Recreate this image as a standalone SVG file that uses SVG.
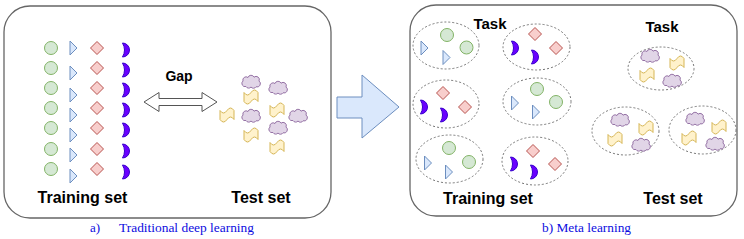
<svg xmlns="http://www.w3.org/2000/svg" xmlns:xlink="http://www.w3.org/1999/xlink" width="744" height="239" viewBox="0 0 744 239">
<style>
.panel{fill:#fff;stroke:#666;stroke-width:1.3}
.task{fill:none;stroke:#777;stroke-width:1;stroke-dasharray:2 2}
.circ{fill:#d5e8d4;stroke:#82b366;stroke-width:1}
.tri{fill:#dae8fc;stroke:#6c8ebf;stroke-width:1}
.dia{fill:#f8cecc;stroke:#b85450;stroke-width:1}
.moon{fill:#6a00ff;stroke:#3700cc;stroke-width:1}
.cloud{fill:#e1d5e7;stroke:#9673a6;stroke-width:1}
.tape{fill:#fff2cc;stroke:#d6b656;stroke-width:1}
.lbl{font-family:"Liberation Sans",Arial,sans-serif;font-weight:bold;fill:#000;text-anchor:middle}
.cap{font-family:"Liberation Serif","Times New Roman",serif;font-size:13px;fill:#0c0ce0}
</style>
<defs>
<circle id="c" class="circ" cx="0" cy="0" r="6.5"/>
<path id="t" class="tri" d="M -3.5 -7 L 3.5 0 L -3.5 7 Z"/>
<path id="d" class="dia" d="M 0 -6.5 L 6.5 0 L 0 6.5 L -6.5 0 Z"/>
<path id="m" class="moon" d="M -3.5 -7 A 7 7 0 0 1 -3.5 7 A 14 14 0 0 0 -3.5 -7 Z"/>
<path id="k" class="cloud" d="M -5 4.5 A 3.2 3.2 0 0 1 -8 -1 A 3.2 3.2 0 0 1 -3 -4.5 A 3.2 3.2 0 0 1 3 -4.8 A 3.2 3.2 0 0 1 8 -1 A 3.3 3.3 0 0 1 5 4.8 A 3 3 0 0 1 0 5 A 3 3 0 0 1 -5 4.5 Z"/>
<path id="p" class="tape" d="M -7 -4.5 Q -3.5 0.5 0 -4.5 Q 3.5 -9.5 7 -4.5 L 7 4.5 Q 3.5 -0.5 0 4.5 Q -3.5 9.5 -7 4.5 Z"/>
</defs>

<g id="panel-a">
<rect class="panel" x="4" y="6" width="327" height="212" rx="26" ry="26"/>
</g>
<g id="panel-b">
<rect class="panel" x="410" y="5" width="327" height="211" rx="26" ry="26"/>
</g>

<g id="train-circles">
<use href="#c" x="51" y="48"/><use href="#c" x="51" y="68"/><use href="#c" x="51" y="88"/><use href="#c" x="51" y="108"/><use href="#c" x="51" y="128"/><use href="#c" x="51" y="149"/><use href="#c" x="51" y="169"/>
</g>
<g id="train-triangles">
<use href="#t" x="73.5" y="48"/><use href="#t" x="73.5" y="73"/><use href="#t" x="73.5" y="95"/><use href="#t" x="73.5" y="115"/><use href="#t" x="73.5" y="135"/><use href="#t" x="73.5" y="155"/><use href="#t" x="73.5" y="176"/>
</g>
<g id="train-diamonds">
<use href="#d" x="97" y="48"/><use href="#d" x="97" y="68"/><use href="#d" x="97" y="88"/><use href="#d" x="97" y="108"/><use href="#d" x="97" y="128"/><use href="#d" x="97" y="149"/><use href="#d" x="97" y="169"/>
</g>
<g id="train-moons">
<use href="#m" x="126" y="50"/><use href="#m" x="126" y="70"/><use href="#m" x="126" y="90"/><use href="#m" x="126" y="110"/><use href="#m" x="126" y="130"/><use href="#m" x="126" y="151"/><use href="#m" x="126" y="172"/>
</g>
<g id="test-a">
<use href="#k" x="251" y="82"/><use href="#k" x="278" y="88"/><use href="#k" x="251" y="116"/><use href="#k" x="298" y="116"/><use href="#k" x="278" y="128"/>
<use href="#p" x="251" y="97"/><use href="#p" x="227" y="115"/><use href="#p" x="277" y="110"/><use href="#p" x="251" y="135"/><use href="#p" x="277" y="147"/>
</g>
<g id="labels-a">
<text class="lbl" x="82.5" y="203" font-size="16">Training set</text>
<text class="lbl" x="261" y="203" font-size="16">Test set</text>
<text class="lbl" x="179" y="81" font-size="14">Gap</text>
</g>

<g id="task1"><ellipse class="task" cx="446" cy="45.5" rx="33" ry="23.5"/>
<use href="#t" x="424.5" y="48"/><use href="#c" x="447" y="35"/><use href="#c" x="466.5" y="47.5"/><use href="#t" x="446.5" y="57.5"/></g>
<g id="task2"><ellipse class="task" cx="536.5" cy="47" rx="33.5" ry="23"/>
<use href="#d" x="535" y="34"/><use href="#d" x="556" y="48"/><use href="#m" x="515" y="48"/><use href="#m" x="535" y="57"/></g>
<g id="task3"><ellipse class="task" cx="446" cy="104" rx="33" ry="24"/>
<use href="#d" x="443" y="93"/><use href="#d" x="465" y="107"/><use href="#m" x="424" y="107"/><use href="#m" x="444" y="115"/></g>
<g id="task4"><ellipse class="task" cx="537" cy="101.5" rx="34" ry="23.5"/>
<use href="#c" x="537" y="89"/><use href="#c" x="556" y="102"/><use href="#t" x="515" y="103"/><use href="#t" x="536" y="112"/></g>
<g id="task5"><ellipse class="task" cx="449.5" cy="159" rx="33.5" ry="24"/>
<use href="#c" x="449" y="148"/><use href="#c" x="469" y="162"/><use href="#t" x="428" y="163"/><use href="#t" x="449" y="172"/></g>
<g id="task6"><ellipse class="task" cx="535" cy="161" rx="33" ry="24"/>
<use href="#d" x="533" y="151"/><use href="#d" x="555" y="164"/><use href="#m" x="514" y="164"/><use href="#m" x="534" y="172"/></g>
<g id="task7"><ellipse class="task" cx="661" cy="68.5" rx="33" ry="21.5"/>
<use href="#k" x="650" y="56"/><use href="#p" x="677" y="63"/><use href="#p" x="647" y="75"/><use href="#k" x="672" y="81"/></g>
<g id="task8"><ellipse class="task" cx="625.5" cy="131" rx="33.5" ry="24"/>
<use href="#k" x="620" y="120"/><use href="#p" x="646" y="128"/><use href="#p" x="615" y="139"/><use href="#k" x="641" y="145"/></g>
<g id="task9"><ellipse class="task" cx="702.5" cy="130" rx="33.5" ry="24"/>
<use href="#k" x="695" y="119"/><use href="#p" x="719" y="127"/><use href="#p" x="689" y="138"/><use href="#k" x="715" y="144"/></g>
<g id="labels-b">
<text class="lbl" x="490" y="29" font-size="15">Task</text>
<text class="lbl" x="662" y="32" font-size="15">Task</text>
<text class="lbl" x="488" y="204" font-size="16">Training set</text>
<text class="lbl" x="673" y="204" font-size="16">Test set</text>
</g>

<g id="connectors">
<path d="M 144 102 L 159 92.5 L 159 98.5 L 202 98.5 L 202 92.5 L 217 102 L 202 111.5 L 202 105.5 L 159 105.5 L 159 111.5 Z" fill="#fff" stroke="#555" stroke-width="1"/>
<path d="M 337 97 L 362 97 L 362 75 L 399 107 L 362 138 L 362 118 L 337 118 Z" fill="#dae8fc" stroke="#6c8ebf" stroke-width="1"/>
</g>

<g id="captions">
<text class="cap" x="90" y="232">a)</text>
<text class="cap" x="119" y="232" textLength="135" lengthAdjust="spacingAndGlyphs">Traditional deep learning</text>
<text class="cap" x="542" y="232" textLength="89" lengthAdjust="spacingAndGlyphs">b) Meta learning</text>
</g>
</svg>
